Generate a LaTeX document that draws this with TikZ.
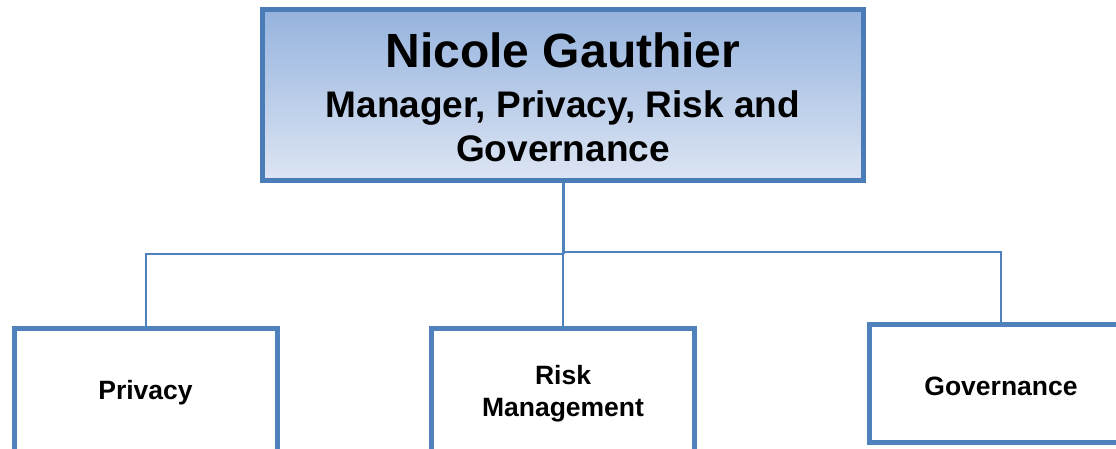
\documentclass[tikz,border=0pt]{standalone}
\usepackage{fontspec}
\setmainfont{Liberation Sans}
\usetikzlibrary{positioning}

\definecolor{orgblue}{RGB}{79,129,189}
\definecolor{orgedge}{RGB}{74,124,184}
\definecolor{shadetop}{RGB}{149,179,222}
\definecolor{shadebot}{RGB}{221,229,243}

\begin{document}
\begin{tikzpicture}[x=1pt, y=-1pt, thick,
    head/.style={draw=orgedge, line width=5pt, top color=shadetop, bottom color=shadebot,
        minimum width=601pt, minimum height=171pt, inner sep=0pt, align=center,
        font=\bfseries\fontsize{37}{44}\selectfont},
    unit/.style={draw=orgblue, line width=5pt, fill=white, minimum width=263pt,
        inner sep=0pt, align=center, font=\bfseries\fontsize{26.5}{32}\selectfont},
    link/.style={draw=orgblue, line width=2pt},
    stem/.style={draw=orgblue, line width=3pt}]
    \useasboundingbox (0,0) rectangle (1116,449);
    \fill[white] (0,0) rectangle (1116,449);

    % Nodes
    \node[head] (boss) at (563,95) {{\fontsize{48}{48}\selectfont\rule{0pt}{39pt}Nicole Gauthier}\\[6pt]
        Manager, Privacy, Risk and\\Governance};
    \node[unit, minimum height=129pt] (privacy) at (145.5,393) {Privacy};
    \node[unit, minimum height=131pt] (risk) at (563,394) {Risk\\Management};
    \node[unit, minimum height=118pt, text height=25pt] (governance) at (1001,383.5) {Governance};

    % Lines to the teams
    \coordinate (hubleft) at (563,254);
    \coordinate (hubright) at (563,252);
    \draw[stem] (boss.south) -- (hubleft);
    \draw[link] (privacy.north) |- (hubleft);
    \draw[link] (risk.north) -- (hubleft);
    \draw[link] (governance.north) |- (hubright);

\end{tikzpicture}
\end{document}
